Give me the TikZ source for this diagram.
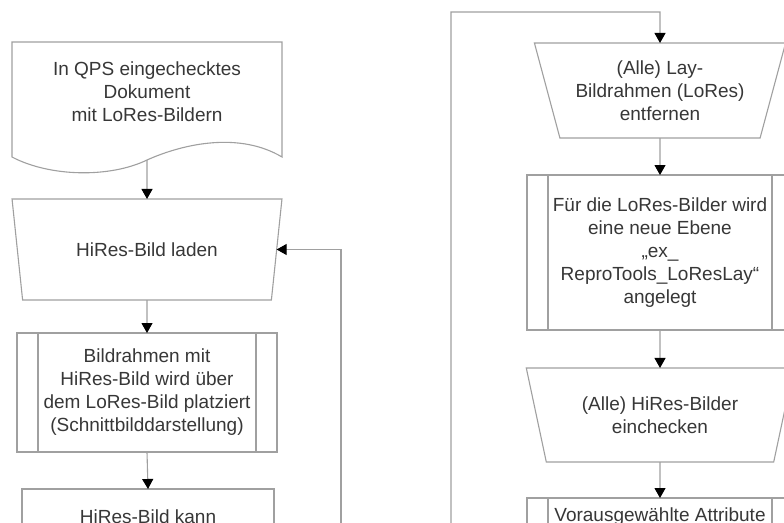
\documentclass[tikz,border=0pt]{standalone}
\usepackage{fontspec}
\setmainfont{Liberation Sans}
\usetikzlibrary{shapes.geometric,arrows.meta}
\definecolor{linegray}{RGB}{160,160,160}
\definecolor{textgray}{RGB}{55,55,55}
\tikzset{
  base/.style={draw=linegray, line width=1.1pt, outer sep=0pt, inner sep=2pt,
    text=textgray, align=center, font=\fontsize{19}{23}\selectfont},
  txt/.style={text=textgray, align=center, font=\fontsize{19}{23}\selectfont, inner sep=0pt},
  manual/.style={base, trapezium, shape border rotate=180,
    trapezium left angle=71, trapezium right angle=71, trapezium stretches=true},
  predef/.style={base, rectangle, path picture={
    \draw[linegray, line width=1.1pt]
      ([xshift=21pt]path picture bounding box.north west) -- ([xshift=21pt]path picture bounding box.south west)
      ([xshift=-21pt]path picture bounding box.north east) -- ([xshift=-21pt]path picture bounding box.south east);}},
  plainbox/.style={base, rectangle},
  arr/.style={draw=linegray, line width=1.1pt, -{Triangle[width=11pt,length=10pt,color=black]}},
  conn/.style={draw=linegray, line width=1.1pt}
}
\begin{document}
\begin{tikzpicture}[x=1pt,y=-1pt]
\clip (0,0) rectangle (784,522);
\fill[white] (0,0) rectangle (784,522);
% left column
\node[draw=none, minimum width=270pt, minimum height=118pt, inner sep=0pt, outer sep=0pt] (doc) at (147,101) {};
\draw[linegray, line width=1.1pt] (doc.north west) -- ([yshift=3pt]doc.south west)
  .. controls (50,177) and (110,178) .. (doc.south)
  .. controls (185,143) and (240,132) .. ([yshift=3pt]doc.south east) -- (doc.north east) -- cycle;
\node[txt] (doctext) at (147,92) {In QPS eingechecktes\\Dokument\\mit LoRes-Bildern};
\node[manual, minimum width=270pt, minimum height=101pt] (trap1) at (147,249.5) {HiRes-Bild laden};
\node[predef, minimum width=260pt, minimum height=119pt] (pp1) at (147,392.5) {Bildrahmen mit\\HiRes-Bild wird über\\dem LoRes-Bild platziert\\(Schnittbilddarstellung)};
\node[plainbox, minimum width=252pt, minimum height=56pt] (box4) at (148,517) {HiRes-Bild kann};
% right column
\node[manual, minimum width=252pt, minimum height=95pt] (trap2) at (660,90.5) {(Alle) Lay-\\Bildrahmen (LoRes)\\entfernen};
\node[predef, minimum width=266pt, minimum height=155pt] (pp2) at (660,252.5) {Für die LoRes-Bilder wird\\eine neue Ebene\\„ex\_\\ReproTools\_LoResLay“\\angelegt};
\node[manual, minimum width=268pt, minimum height=94pt] (trap3) at (660,415) {(Alle) HiRes-Bilder\\einchecken};
\node[predef, minimum width=266pt, minimum height=38pt] (pp3) at (660,517) {Vorausgewählte Attribute};
% connectors
\coordinate (loopL) at (341,540);
\coordinate (loopR) at (451,540);
\coordinate (topR) at (660,12);
\draw[arr] (doc.south) -- (trap1.north);
\draw[arr] (trap1.south) -- (pp1.north);
\draw[arr] (pp1.south) -- (box4.north);
\draw[arr] (loopL) |- (trap1.east);
\draw[arr] (loopR) |- (topR) -- (trap2.north);
\draw[arr] (trap2.south) -- (pp2.north);
\draw[arr] (pp2.south) -- (trap3.north);
\draw[arr] (trap3.south) -- (pp3.north);
\end{tikzpicture}
\end{document}
